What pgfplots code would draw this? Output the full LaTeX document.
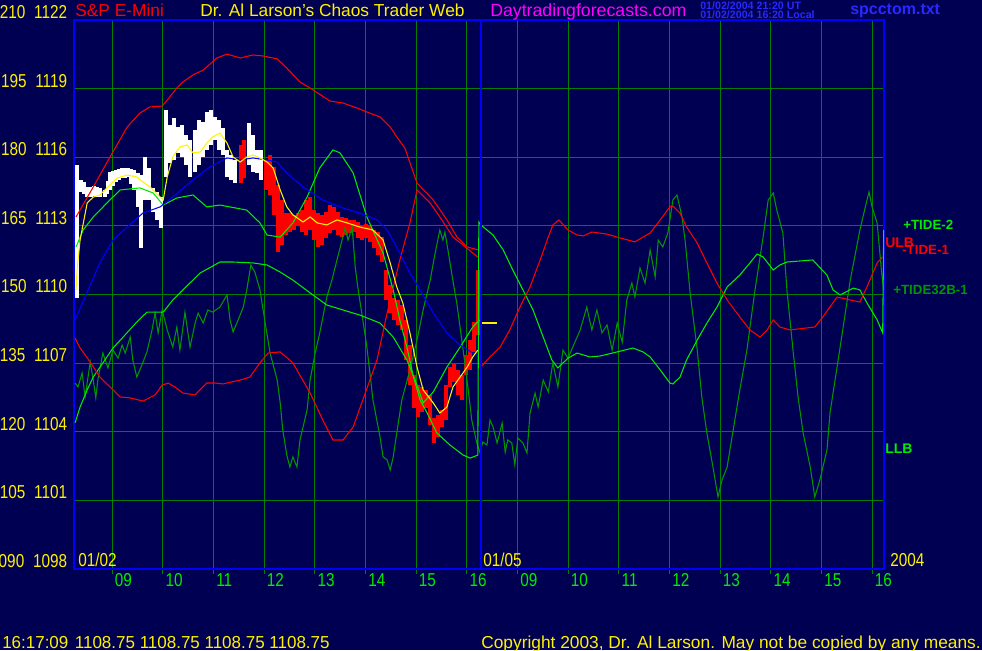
\documentclass[border=0pt]{standalone}
\usepackage{fontspec}
\setmainfont{Liberation Sans}
\usepackage{graphicx}
\usepackage{pgfplots}
\pgfplotsset{compat=1.18}
\usepackage{pgfplotstable}

\definecolor{navy}{RGB}{0,0,82}
\definecolor{gridg}{RGB}{0,128,0}
\definecolor{brg}{RGB}{0,235,0}
\definecolor{dkg}{RGB}{0,150,0}
\definecolor{lblue}{RGB}{40,40,255}
\definecolor{mag}{RGB}{255,0,255}

\newcommand{\cond}[1]{\scalebox{0.82}[1]{\fontsize{14pt}{15pt}\selectfont #1}}

% price bars: x (hour index), low, high
\pgfplotstableread{
x lo hi
-0.69 1109.85 1115.66
-0.61 1114.48 1115.01
-0.55 1114.40 1114.92
-0.49 1114.26 1114.70
-0.42 1114.28 1114.72
-0.36 1114.31 1114.74
-0.30 1114.28 1114.70
-0.24 1114.26 1114.66
-0.14 1114.26 1114.57
-0.09 1114.40 1114.95
-0.04 1114.57 1115.36
0.02 1114.75 1115.40
0.08 1114.92 1115.44
0.14 1115.00 1115.50
0.20 1115.09 1115.53
0.26 1115.10 1115.53
0.32 1115.14 1115.53
0.38 1114.85 1115.48
0.43 1114.57 1115.44
0.51 1113.83 1115.31
0.57 1112.03 1115.22
0.65 1114.13 1116.01
0.73 1114.13 1115.53
0.81 1113.61 1114.66
0.89 1113.26 1114.48
0.97 1112.91 1114.26
1.07 1115.14 1118.07
1.14 1115.75 1117.41
1.22 1115.88 1117.72
1.30 1116.19 1117.32
1.38 1116.01 1117.41
1.46 1115.66 1116.97
1.54 1115.14 1116.75
1.64 1115.36 1117.19
1.72 1115.66 1117.63
1.80 1116.01 1117.54
1.87 1116.32 1117.98
1.95 1116.54 1118.07
2.03 1116.75 1117.76
2.11 1116.32 1117.63
2.19 1116.10 1117.28
2.27 1115.14 1116.32
2.35 1115.01 1116.10
2.43 1114.87 1115.88
2.70 1115.66 1117.50
2.78 1115.36 1116.97
2.86 1115.31 1116.32
2.94 1115.01 1116.32
7.26 1108.54 1108.97
}\whitebars

\pgfplotstableread{
x lo hi
2.55 1114.87 1116.54
2.61 1115.09 1116.75
3.04 1114.57 1115.88
3.12 1114.35 1116.10
3.20 1113.48 1115.57
3.28 1111.86 1114.79
3.36 1112.16 1114.13
3.43 1112.60 1113.56
3.51 1112.73 1113.56
3.59 1112.82 1113.48
3.67 1113.04 1113.56
3.75 1112.73 1113.69
3.83 1112.60 1114.13
3.91 1112.82 1114.26
3.99 1112.38 1113.69
4.07 1112.08 1113.56
4.14 1112.16 1113.48
4.22 1112.47 1113.61
4.30 1112.69 1113.91
4.38 1112.82 1113.83
4.46 1112.60 1113.61
4.54 1112.51 1113.39
4.62 1112.60 1113.34
4.70 1112.69 1113.26
4.78 1112.73 1113.26
4.85 1112.47 1113.17
4.93 1112.38 1113.04
5.01 1112.47 1113.08
5.09 1112.30 1113.00
5.17 1112.03 1112.82
5.25 1111.73 1112.73
5.33 1111.42 1112.51
5.41 1109.76 1111.07
5.49 1109.19 1110.42
5.57 1108.89 1109.85
5.64 1108.67 1109.76
5.72 1108.45 1109.54
5.80 1107.14 1108.89
5.88 1106.04 1107.79
5.96 1105.04 1106.48
6.04 1104.64 1106.04
6.12 1104.86 1105.96
6.20 1105.04 1105.83
6.28 1104.30 1105.61
6.35 1103.51 1104.60
6.43 1103.77 1104.73
6.51 1104.21 1104.95
6.59 1104.51 1106.04
6.67 1105.96 1106.83
6.75 1106.17 1107.01
6.83 1105.61 1106.70
6.91 1105.39 1106.48
6.99 1106.48 1107.36
7.07 1106.70 1108.01
7.14 1107.49 1108.80
7.22 1108.23 1111.07
}\redbars

\pgfplotstableread{
x y
-0.71 1113.39
-0.37 1114.70
-0.04 1116.01
0.30 1117.32
0.55 1117.93
0.75 1118.20
0.99 1118.24
1.09 1118.50
1.28 1119.03
1.40 1119.29
1.60 1119.60
1.80 1119.81
2.07 1120.34
2.27 1120.51
2.53 1120.34
2.78 1120.47
2.98 1120.43
3.26 1120.30
3.45 1119.90
3.71 1119.29
3.97 1118.94
4.30 1118.46
4.56 1118.37
4.84 1118.15
5.03 1117.98
5.29 1117.76
5.49 1117.32
5.62 1116.89
5.78 1116.40
6.02 1114.87
6.34 1114.13
6.61 1113.26
6.81 1112.51
7.01 1112.08
7.22 1111.95
}\ulb

\pgfplotstableread{
x y
-0.73 1108.10
-0.63 1107.66
-0.43 1107.05
-0.24 1106.39
-0.04 1105.96
0.16 1105.52
0.36 1105.48
0.61 1105.34
0.85 1105.61
0.99 1106.04
1.11 1106.13
1.24 1105.96
1.40 1105.69
1.64 1105.61
1.87 1106.13
2.03 1106.13
2.19 1106.09
2.53 1106.26
2.72 1106.39
2.92 1107.01
3.08 1107.44
3.32 1107.49
3.57 1107.01
3.91 1105.69
4.16 1104.51
4.36 1103.64
4.56 1103.64
4.76 1104.21
4.95 1105.39
5.23 1107.14
5.43 1109.19
5.68 1111.51
5.88 1113.13
6.02 1114.57
6.28 1114.00
6.51 1113.26
6.73 1112.51
6.93 1112.16
7.12 1111.81
7.22 1111.64
}\llb

\pgfplotstableread{
x y
7.28 1106.83
7.46 1107.27
7.66 1107.70
7.85 1108.45
8.05 1109.45
8.25 1110.33
8.45 1111.51
8.61 1112.51
8.70 1113.04
8.82 1113.26
9.00 1112.82
9.18 1112.60
9.30 1112.56
9.47 1112.73
9.77 1112.64
10.03 1112.47
10.32 1112.30
10.48 1112.51
10.62 1112.69
10.82 1113.26
11.01 1113.83
11.07 1113.87
11.21 1113.56
11.34 1112.95
11.55 1112.25
11.74 1111.38
11.94 1110.50
12.14 1109.76
12.39 1109.02
12.59 1108.45
12.79 1108.14
12.93 1108.45
13.05 1108.89
13.18 1108.58
13.38 1108.45
13.87 1108.58
14.03 1109.02
14.31 1109.89
14.57 1109.76
14.76 1109.67
14.90 1110.33
15.10 1111.38
15.21 1111.64
}\redtwo

\pgfplotstableread{
x y
-0.73 1108.89
-0.47 1110.20
-0.24 1111.38
0.02 1112.38
0.30 1112.95
0.61 1113.56
0.95 1113.83
1.20 1114.26
1.60 1115.01
1.93 1115.57
2.27 1115.97
2.53 1115.88
2.78 1115.97
3.06 1115.88
3.26 1115.79
3.45 1115.31
3.77 1114.70
4.16 1114.13
4.56 1113.78
4.89 1113.56
5.23 1113.26
5.43 1112.82
5.68 1111.81
5.88 1110.94
6.08 1110.20
6.34 1109.19
6.61 1108.32
6.87 1107.79
7.12 1107.44
7.22 1107.36
}\blueline

\pgfplotstableread{
x y
-0.71 1110.20
-0.69 1111.07
-0.63 1112.38
-0.49 1114.00
-0.37 1114.26
-0.24 1114.35
-0.04 1114.79
0.10 1115.09
0.30 1115.22
0.49 1115.14
0.61 1114.92
0.75 1114.70
0.95 1114.26
1.01 1114.13
1.09 1115.14
1.20 1116.01
1.34 1116.45
1.48 1116.54
1.60 1116.19
1.74 1116.23
1.87 1116.62
1.99 1116.89
2.13 1117.06
2.27 1116.62
2.39 1116.01
2.53 1115.79
2.66 1116.01
2.78 1116.10
2.92 1115.97
3.06 1115.79
3.18 1115.53
3.32 1114.57
3.45 1113.83
3.57 1113.48
3.77 1113.17
3.91 1113.39
4.05 1113.13
4.24 1113.04
4.44 1113.26
4.64 1113.13
4.89 1112.95
5.15 1112.82
5.35 1112.38
5.49 1111.38
5.62 1110.33
5.74 1109.63
5.88 1108.32
6.02 1106.83
6.14 1105.83
6.34 1105.26
6.47 1104.82
6.61 1105.08
6.73 1105.96
6.87 1106.39
7.01 1106.83
7.12 1107.27
7.22 1107.57
}\yellowline

\pgfplotstableread{
x y
-0.71 1112.08
-0.57 1112.82
-0.37 1113.39
-0.10 1114.00
0.16 1114.57
0.55 1114.66
0.81 1114.44
1.01 1113.91
1.28 1114.22
1.60 1114.35
1.87 1113.83
2.13 1113.91
2.66 1113.69
2.92 1113.13
3.06 1112.60
3.32 1112.51
3.57 1113.13
3.85 1114.26
4.10 1115.53
4.36 1116.32
4.50 1116.19
4.76 1115.31
5.03 1113.39
5.35 1111.81
5.55 1110.20
5.68 1108.89
5.82 1107.70
5.94 1106.48
6.08 1105.39
6.22 1104.82
6.41 1103.95
6.67 1103.42
6.93 1102.98
7.07 1102.85
7.22 1102.98
7.24 1113.17
7.28 1113.04
7.52 1112.60
7.72 1111.95
7.91 1111.07
8.11 1110.20
8.31 1109.32
8.51 1108.14
8.68 1107.14
8.80 1106.79
9.00 1107.22
9.18 1107.44
9.43 1107.27
9.63 1107.31
9.97 1107.49
10.28 1107.66
10.48 1107.49
10.62 1107.27
10.82 1106.70
11.01 1106.13
11.07 1106.09
11.21 1106.39
11.34 1107.14
11.55 1108.01
11.74 1108.75
11.94 1109.45
12.14 1110.33
12.39 1110.85
12.59 1111.38
12.73 1111.77
12.85 1111.64
13.05 1111.07
13.18 1111.29
13.32 1111.42
13.83 1111.51
14.11 1110.85
14.23 1110.20
14.37 1109.98
14.63 1110.28
14.76 1110.20
14.90 1109.63
15.10 1108.89
15.21 1108.32
15.23 1112.82
}\greenone

\pgfplotstableread{
x y
-0.73 1104.38
-0.63 1105.08
-0.49 1105.83
-0.37 1106.39
-0.18 1107.01
0.02 1107.66
0.22 1108.14
0.49 1108.80
0.69 1109.23
1.01 1109.23
1.20 1109.76
1.40 1110.20
1.74 1110.94
2.13 1111.42
2.39 1111.42
2.78 1111.38
3.06 1111.29
3.32 1110.98
3.57 1110.63
3.91 1110.07
4.24 1109.54
4.89 1109.10
5.29 1108.75
5.55 1108.14
5.82 1107.14
6.02 1106.04
6.14 1105.26
6.34 1105.74
6.61 1106.83
6.87 1107.70
7.12 1108.58
7.26 1108.89
}\greentwo

\pgfplotstableread{
x y
-0.73 1106.13
-0.67 1105.96
-0.59 1106.57
-0.53 1105.52
-0.43 1107.05
-0.37 1106.26
-0.32 1105.48
-0.28 1106.26
-0.18 1107.44
-0.08 1106.79
0.02 1107.57
0.12 1107.22
0.20 1107.79
0.26 1107.44
0.36 1108.14
0.41 1107.14
0.49 1106.39
0.59 1106.92
0.69 1107.49
0.79 1108.45
0.85 1109.19
0.91 1108.32
0.99 1109.32
1.09 1108.45
1.20 1107.70
1.28 1108.58
1.34 1107.57
1.44 1109.23
1.54 1107.70
1.64 1108.75
1.70 1109.19
1.80 1108.75
1.89 1109.32
1.99 1109.23
2.13 1109.45
2.27 1109.98
2.33 1108.89
2.39 1108.36
2.49 1108.89
2.59 1109.45
2.66 1110.20
2.74 1111.29
2.82 1110.98
2.92 1110.20
3.02 1108.80
3.12 1107.44
3.26 1106.26
3.32 1105.26
3.37 1104.08
3.45 1102.98
3.51 1102.46
3.57 1102.90
3.65 1102.46
3.71 1103.64
3.85 1104.95
3.91 1106.26
4.01 1107.44
4.10 1108.32
4.24 1109.89
4.34 1110.63
4.44 1111.51
4.54 1112.38
4.60 1112.91
4.66 1112.38
4.74 1112.95
4.80 1111.20
4.85 1110.33
4.95 1108.89
5.03 1107.70
5.09 1106.57
5.15 1105.39
5.29 1103.77
5.35 1102.90
5.43 1102.77
5.49 1102.33
5.55 1102.90
5.62 1103.95
5.72 1105.39
5.88 1106.70
6.02 1108.01
6.14 1109.32
6.28 1110.63
6.37 1111.73
6.47 1112.82
6.53 1112.38
6.57 1112.73
6.63 1111.95
6.71 1110.85
6.81 1109.54
6.93 1107.57
7.03 1105.83
7.10 1104.51
7.20 1103.51
7.26 1103.11
7.32 1103.55
7.40 1103.42
7.46 1104.51
7.52 1104.21
7.60 1103.51
7.70 1104.38
7.76 1103.11
7.81 1103.64
7.89 1103.51
7.95 1102.55
8.01 1103.73
8.11 1103.51
8.19 1103.07
8.25 1104.82
8.35 1105.69
8.41 1105.08
8.51 1106.26
8.61 1105.74
8.70 1107.01
8.80 1105.96
8.90 1107.57
9.00 1107.22
9.24 1108.45
9.37 1109.45
9.47 1108.45
9.57 1109.32
9.67 1108.32
9.77 1108.67
9.87 1107.57
9.97 1108.75
10.07 1107.92
10.16 1109.76
10.26 1110.50
10.32 1109.89
10.42 1111.16
10.52 1110.50
10.62 1111.95
10.72 1110.77
10.78 1112.38
10.87 1112.08
10.97 1112.69
11.07 1114.13
11.15 1114.35
11.25 1113.39
11.31 1112.38
11.41 1110.07
11.55 1107.57
11.64 1105.52
11.74 1103.95
11.86 1102.46
11.96 1101.15
12.04 1101.89
12.14 1102.46
12.25 1103.95
12.39 1105.83
12.53 1107.57
12.69 1110.20
12.85 1112.51
12.95 1114.13
13.05 1114.44
13.12 1113.69
13.24 1112.69
13.32 1110.20
13.44 1107.57
13.54 1105.52
13.64 1103.95
13.78 1102.46
13.87 1101.15
13.97 1101.89
14.11 1103.20
14.17 1104.82
14.37 1107.70
14.57 1110.63
14.76 1112.82
14.90 1114.13
14.94 1114.48
15.00 1113.83
15.10 1113.13
15.19 1110.94
15.23 1110.20
}\darkgreen

\begin{document}
\begin{tikzpicture}
\fill[navy] (0,0) rectangle (736.5pt,487.5pt);
\begin{axis}[
  at={(55.5pt,60.75pt)}, anchor=south west,
  scale only axis, width=607.5pt, height=411.75pt,
  xmin=-0.75, xmax=15.236, ymin=1098, ymax=1122,
  axis line style={draw=blue, line width=1.6pt},
  xmajorgrids, ymajorgrids,
  major grid style={draw=gridg, line width=0.75pt},
  xtick={0,...,15},
  xticklabels={\cond{09},\cond{10},\cond{11},\cond{12},\cond{13},\cond{14},\cond{15},\cond{16},\cond{09},\cond{10},\cond{11},\cond{12},\cond{13},\cond{14},\cond{15},\cond{16}},
  ytick={1098,1101,...,1122},
  yticklabels={\cond{090\kern8pt1098},\cond{105\kern8pt1101},\cond{120\kern8pt1104},\cond{135\kern8pt1107},\cond{150\kern8pt1110},\cond{165\kern8pt1113},\cond{180\kern8pt1116},\cond{195\kern8pt1119},\cond{210\kern8pt1122}},
  tick pos=left, tick align=outside,
  major tick length=3.5pt,
  xtick style={draw=gridg, line width=0.75pt},
  ytick style={draw=none},
  xticklabel style={text=brg, anchor=north west, inner sep=0pt, xshift=2pt, yshift=0pt},
  yticklabel style={text=yellow, anchor=south east, inner sep=0pt, xshift=-1.5pt, yshift=0.8pt},
]
\addplot[draw=none, mark=none, forget plot, error bars/.cd, y dir=plus, y explicit, error mark=none,
  error bar style={draw=white, line width=2.9pt}]
  table[x=x, y=lo, y error expr=\thisrow{hi}-\thisrow{lo}] {\whitebars};
\addplot[draw=none, mark=none, forget plot, error bars/.cd, y dir=plus, y explicit, error mark=none,
  error bar style={draw=red, line width=2.9pt}]
  table[x=x, y=lo, y error expr=\thisrow{hi}-\thisrow{lo}] {\redbars};
\addplot[dkg, line width=0.8pt] table[x=x,y=y] {\darkgreen};
\addplot[brg, line width=0.8pt] table[x=x,y=y] {\greentwo};
\addplot[brg, line width=0.8pt] table[x=x,y=y] {\greenone};
\addplot[red, line width=0.8pt] table[x=x,y=y] {\ulb};
\addplot[red, line width=0.8pt] table[x=x,y=y] {\llb};
\addplot[red, line width=0.8pt] table[x=x,y=y] {\redtwo};
\addplot[blue, line width=0.8pt] table[x=x,y=y] {\blueline};
\addplot[yellow, line width=0.8pt] table[x=x,y=y] {\yellowline};
\addplot[yellow, line width=1.6pt] coordinates {(7.30,1108.75) (7.60,1108.75)};
\addplot[blue, line width=1.1pt] coordinates {(7.28,1098) (7.28,1122)};
\end{axis}
% top texts
\node[anchor=base west, inner sep=0pt, text=red, font=\fontsize{13pt}{14pt}\selectfont] at (56.25pt,474.75pt) {S\&P E-Mini};
\node[anchor=base west, inner sep=0pt, text=yellow, font=\fontsize{13pt}{14pt}\selectfont] at (150pt,474.75pt) {Dr. Al Larson's Chaos Trader Web};
\node[anchor=base west, inner sep=0pt, text=mag, font=\fontsize{13.3pt}{14pt}\selectfont] at (367.5pt,474.75pt) {Daytradingforecasts.com};
\node[anchor=base west, inner sep=0pt, text=lblue, font=\fontsize{8pt}{9pt}\selectfont\bfseries] at (525pt,480pt) {01/02/2004 21:20 UT};
\node[anchor=base west, inner sep=0pt, text=lblue, font=\fontsize{8pt}{9pt}\selectfont\bfseries] at (525pt,473.25pt) {01/02/2004 16:20 Local};
\node[anchor=base west, inner sep=0pt, text=lblue, font=\fontsize{12pt}{13pt}\selectfont\bfseries] at (637.5pt,476.25pt) {spcctom.txt};
% inside labels
\node[anchor=base west, inner sep=0pt, text=yellow] at (58.5pt,62.25pt) {\cond{01/02}};
\node[anchor=base west, inner sep=0pt, text=yellow] at (362.25pt,62.25pt) {\cond{01/05}};
\node[anchor=base west, inner sep=0pt, text=yellow] at (667.5pt,62.25pt) {\cond{2004}};
% right labels
\node[anchor=base west, inner sep=0pt, text=brg, font=\fontsize{10pt}{11pt}\selectfont\bfseries] at (677.25pt,315pt) {+TIDE-2};
\node[anchor=base west, inner sep=0pt, text=red, font=\fontsize{10.5pt}{11pt}\selectfont\bfseries] at (663.75pt,301.5pt) {ULB};
\node[anchor=base west, inner sep=0pt, text=red, font=\fontsize{10pt}{11pt}\selectfont\bfseries] at (676.5pt,296.25pt) {-TIDE-1};
\node[anchor=base west, inner sep=0pt, text=dkg, font=\fontsize{10pt}{11pt}\selectfont\bfseries] at (669.75pt,266.25pt) {+TIDE32B-1};
\node[anchor=base west, inner sep=0pt, text=brg, font=\fontsize{10.5pt}{11pt}\selectfont\bfseries] at (663.75pt,147pt) {LLB};
% bottom texts
\node[anchor=base west, inner sep=0pt, text=yellow, font=\fontsize{13pt}{14pt}\selectfont] at (1.5pt,1.5pt) {\scalebox{0.98}[1]{16:17:09\kern5pt 1108.75 1108.75 1108.75 1108.75}};
\node[anchor=base east, inner sep=0pt, text=yellow, font=\fontsize{13pt}{14pt}\selectfont] at (735.75pt,1.5pt) {Copyright 2003, Dr. Al Larson. May not be copied by any means.};
\pgfresetboundingbox
\useasboundingbox (0,0) rectangle (736.5pt,487.5pt);
\end{tikzpicture}
\end{document}
